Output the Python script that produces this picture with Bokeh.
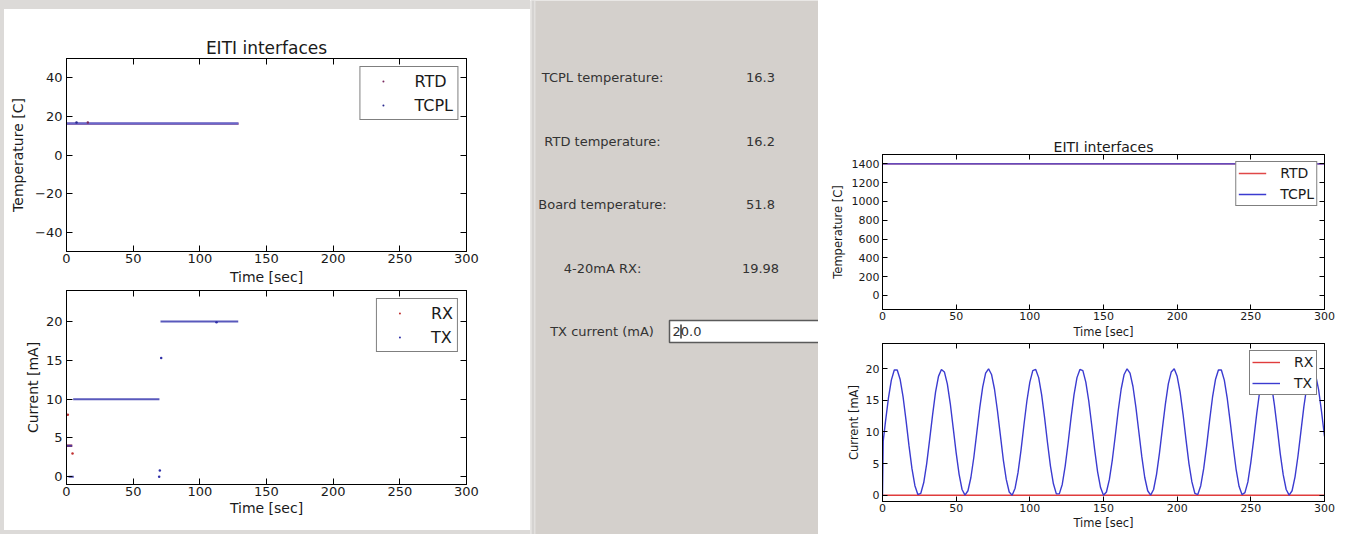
from bokeh.plotting import figure
from bokeh.models import (Range1d, LinearAxis, FixedTicker, Legend, LegendItem, Spacer)
from bokeh.layouts import row, column
from bokeh.embed import file_html
from bokeh.resources import INLINE
from bokeh.core.properties import value

nan = float("nan")

# ---------------- data ----------------
# left window: snapshot after ~129 s
temp_time = [0.0, 129.0]
tcpl_temp = [16.3, 16.3]
rtd_temp = [16.2, 16.2]
tcpl_dot_time = [7.5]
tcpl_dot_temp = [16.8]
rtd_dot_time = [16.0]
rtd_dot_temp = [16.8]

rx_seg_time = [0.0, 4.3]
rx_seg_current = [4.0, 4.0]
rx_dot_time = [1.0, 4.5]
rx_dot_current = [8.0, 3.0]

tx_seg_time = [0.0, 4.3, nan, 1.5, 5.5, nan, 5.0, 69.7, nan, 70.5, 128.8]
tx_seg_current = [4.0, 4.0, nan, 0.0, 0.0, nan, 10.0, 10.0, nan, 20.0, 20.0]
tx_dot_time = [69.5, 70.0, 71.0, 112.5]
tx_dot_current = [0.0, 0.8, 15.3, 19.9]

# right window: full 300 s run
temp2_time = [0.0, 300.0]
tcpl2_temp = [1400.0, 1400.0]
rtd2_temp = [1400.0, 1400.0]

rx2_time = [0.0, 300.0]
rx2_current = [0.0, 0.0]

wave_time = [0.0, 0.5] + list(range(2, 301, 2))
tx2_current = [
    0.0, 8.6,
    11.6, 15.3, 18.2, 19.8, 19.8, 18.3, 15.5, 11.8, 7.8, 4.2,
    1.5, 0.1, 0.3, 2.0, 5.0, 8.8, 12.7, 16.3, 18.8, 19.9,
    19.5, 17.6, 14.5, 10.6, 6.7, 3.3, 0.9, 0.0, 0.7, 2.8,
    6.0, 9.9, 13.8, 17.1, 19.3, 20.0, 19.1, 16.8, 13.4, 9.5,
    5.6, 2.5, 0.5, 0.0, 1.1, 3.6, 7.1, 11.1, 14.9, 17.9,
    19.7, 19.9, 18.6, 15.9, 12.3, 8.3, 4.6, 1.8, 0.2, 0.2,
    1.7, 4.6, 8.3, 12.3, 15.9, 18.6, 19.9, 19.7, 17.9, 14.9,
    11.1, 7.2, 3.7, 1.2, 0.0, 0.5, 2.5, 5.6, 9.4, 13.4,
    16.8, 19.1, 20.0, 19.3, 17.2, 13.9, 10.0, 6.1, 2.8, 0.7,
    0.0, 0.9, 3.3, 6.7, 10.6, 14.4, 17.6, 19.5, 20.0, 18.8,
    16.3, 12.8, 8.8, 5.0, 2.1, 0.3, 0.1, 1.5, 4.2, 7.8,
    11.8, 15.5, 18.3, 19.8, 19.8, 18.2, 15.3, 11.6, 7.7, 4.1,
    1.4, 0.1, 0.4, 2.1, 5.2, 8.9, 12.9, 16.4, 18.9, 20.0,
    19.5, 17.5, 14.3, 10.5, 6.5, 3.2, 0.9, 0.0, 0.7, 2.9,
    6.2, 10.1, 14.0, 17.2, 19.4, 20.0, 19.0, 16.7, 13.2, 9.3,
]

time_ticks = [0, 50, 100, 150, 200, 250, 300]
temp_ticks_left = [-40, -20, 0, 20, 40]
temp_ticks_right = [0, 200, 400, 600, 800, 1000, 1200, 1400]
current_ticks = [0, 5, 10, 15, 20]

panel_labels = ["TCPL temperature:", "RTD temperature:", "Board temperature:", "4-20mA RX:"]
panel_values = ["16.3", "16.2", "51.8", "19.98"]
tx_label = "TX current (mA)"
tx_entry = "20.0"

FONT = "DejaVu Sans"
TXT = "#1a1a1a"
EDGE = "#dcdad8"


def make_plot(width, height, xr, yr, borders, xticks, yticks, tick_fs, label_fs, tick_len,
              xlabel, ylabel, x_stand, y_stand, title=None, title_fs="14px", title_standoff=0,
              y_overrides=None):
    left, right, top, bottom = borders
    p = figure(width=width, height=height, x_range=Range1d(*xr), y_range=Range1d(*yr),
               output_backend="svg", toolbar_location=None, title=title,
               x_axis_type=None, y_axis_type=None,
               min_border_left=left, min_border_right=right,
               min_border_top=top, min_border_bottom=bottom)
    p.outline_line_color = "black"
    p.outline_line_width = 1
    p.background_fill_color = "white"
    p.border_fill_color = "white"
    if title is not None:
        p.title.text_font = FONT
        p.title.text_font_size = title_fs
        p.title.text_font_style = "normal"
        p.title.text_color = TXT
        p.title.align = "center"
        p.title.standoff = title_standoff

    def axis(ticks, label, standoffs, show):
        ax = LinearAxis(ticker=FixedTicker(ticks=ticks))
        ax.axis_line_color = "black"
        ax.major_tick_line_color = "black"
        ax.major_tick_in = tick_len
        ax.major_tick_out = 0
        ax.minor_tick_line_color = None
        if show:
            ax.axis_label = label
            ax.axis_label_text_font = FONT
            ax.axis_label_text_font_size = label_fs
            ax.axis_label_text_font_style = "normal"
            ax.axis_label_text_color = TXT
            ax.axis_label_standoff = standoffs[1]
            ax.major_label_text_font = FONT
            ax.major_label_text_font_size = tick_fs
            ax.major_label_text_color = TXT
            ax.major_label_standoff = standoffs[0]
        else:
            ax.major_label_text_font_size = "1px"
            ax.major_label_text_color = None
            ax.major_label_standoff = 0
        return ax

    xb = axis(xticks, xlabel, x_stand, True)
    yl = axis(yticks, ylabel, y_stand, True)
    if y_overrides:
        yl.major_label_overrides = y_overrides
    p.add_layout(xb, "below")
    p.add_layout(yl, "left")
    p.add_layout(axis(xticks, None, (0, 0), False), "above")
    p.add_layout(axis(yticks, None, (0, 0), False), "right")
    return p


def add_legend(p, items, fs, glyph_w, standoff, label_h, spacing, padding, margin):
    lg = Legend(items=[LegendItem(label=l, renderers=[r]) for l, r in items])
    lg.location = "top_right"
    lg.label_text_font = FONT
    lg.label_text_font_size = fs
    lg.label_text_color = TXT
    lg.glyph_width = glyph_w
    lg.glyph_height = label_h
    lg.label_height = label_h
    lg.label_standoff = standoff
    lg.spacing = spacing
    lg.padding = padding
    lg.margin = margin
    lg.border_line_color = "black"
    lg.border_line_width = 1
    lg.background_fill_color = "white"
    lg.background_fill_alpha = 1.0
    p.add_layout(lg)


# ---------------- left window ----------------
tl = make_plot(526, 279, (0, 300), (-50, 50), (62, 64, 49, 37), time_ticks, temp_ticks_left,
               "13px", "14px", 6, "Time [sec]", "Temperature [C]", (2, 3), (4, 6),
               title="EITI interfaces", title_fs="17px", title_standoff=2,
               y_overrides={-40: "\u221240", -20: "\u221220"})
tl.line(temp_time, rtd_temp, line_color="#d04040", line_width=2)
tl.line(temp_time, tcpl_temp, line_color="#6868cc", line_width=2.6)
r_rtd = tl.scatter(rtd_dot_time, rtd_dot_temp, marker="dot", size=10, color="#7a2a60")
r_tcpl = tl.scatter(tcpl_dot_time, tcpl_dot_temp, marker="dot", size=10, color="#2a2a90")
add_legend(tl, [("RTD", r_rtd), ("TCPL", r_tcpl)], "16px", 37, 13, 20, 4, 4, 8)

bl = make_plot(526, 242, (0, 300), (-1, 24), (62, 64, 2, 46), time_ticks, current_ticks,
               "13px", "14px", 6, "Time [sec]", "Current [mA]", (2, 1), (4, 2))
bl.line(rx_seg_time, rx_seg_current, line_color="#c03030", line_width=2.5)
bl.line(tx_seg_time, tx_seg_current, line_color="#3c3cb0", line_width=2, line_alpha=0.85)
r_rx = bl.scatter(rx_dot_time, rx_dot_current, marker="dot", size=10, color="#c03030")
r_tx = bl.scatter(tx_dot_time, tx_dot_current, marker="dot", size=10, color="#3030a8")
add_legend(bl, [("RX", r_rx), ("TX", r_tx)], "16px", 37, 13, 20, 4, 4, 8)

left_block = column(
    Spacer(width=530, height=9, styles={"background-color": EDGE}),
    row(Spacer(width=4, height=521, styles={"background-color": EDGE}), column(tl, bl)),
    Spacer(width=530, height=4, styles={"background-color": EDGE}),
)

# ---------------- middle panel ----------------
panel = figure(width=288, height=534, x_range=Range1d(530, 818), y_range=Range1d(534, 0),
               output_backend="svg", toolbar_location=None, title=None,
               x_axis_type=None, y_axis_type=None, min_border=0)
panel.outline_line_color = None
panel.background_fill_color = "#d4d0cc"
panel.border_fill_color = "#d4d0cc"
panel.quad(left=530, right=535, top=0, bottom=534, fill_color="#e2e0de", line_color=None)
panel.quad(left=532, right=533, top=0, bottom=534, fill_color="#c8c6c4", line_color=None)
row_y = [77, 141, 204, 268]
panel.text(x=[602] * 4, y=row_y, text=panel_labels, text_font=value(FONT), text_font_size="13px",
           text_align="center", text_baseline="middle", text_color="#333333")
panel.text(x=[760] * 4, y=row_y, text=panel_values, text_font=value(FONT), text_font_size="13px",
           text_align="center", text_baseline="middle", text_color="#333333")
panel.text(x=[601.5], y=[331], text=[tx_label], text_font=value(FONT), text_font_size="13px",
           text_align="center", text_baseline="middle", text_color="#333333")
panel.quad(left=669, right=830, top=320, bottom=342, fill_color="white",
           line_color="#5a5a5a", line_width=1.5)
panel.text(x=[672], y=[331], text=[tx_entry], text_font=value(FONT), text_font_size="13px",
           text_align="left", text_baseline="middle", text_color="#333333")
panel.segment(x0=[680.5], y0=[324], x1=[680.5], y1=[338], line_color="black", line_width=1.2)

# ---------------- right window ----------------
tr = make_plot(528, 341, (0, 300), (-150, 1500), (64, 22, 154, 30), time_ticks, temp_ticks_right,
               "11px", "11.5px", 5, "Time [sec]", "Temperature [C]", (2, 2), (3, 4),
               title="EITI interfaces", title_fs="14px", title_standoff=0)
r_rtd2 = tr.line(temp2_time, rtd2_temp, line_color="#e04848", line_width=1.4)
r_tcpl2 = tr.line(temp2_time, tcpl2_temp, line_color="#3b3bd0", line_width=1.4)
add_legend(tr, [("RTD", r_rtd2), ("TCPL", r_tcpl2)], "14px", 28, 14, 18, 3, 2, 7)

br = make_plot(528, 193, (0, 300), (-1, 24), (64, 22, 2, 33), time_ticks, current_ticks,
               "11px", "11.5px", 5, "Time [sec]", "Current [mA]", (2, 1), (3, 2))
r_rx2 = br.line(rx2_time, rx2_current, line_color="#e03c3c", line_width=1.4)
r_tx2 = br.line(wave_time, tx2_current, line_color="#3b3bd0", line_width=1.4)
add_legend(br, [("RX", r_rx2), ("TX", r_tx2)], "14px", 28, 14, 18, 3, 2, 7)

right_col = column(tr, br)

layout = row(left_block, panel, right_col)

open("out.html", "w").write(file_html(layout, INLINE))
